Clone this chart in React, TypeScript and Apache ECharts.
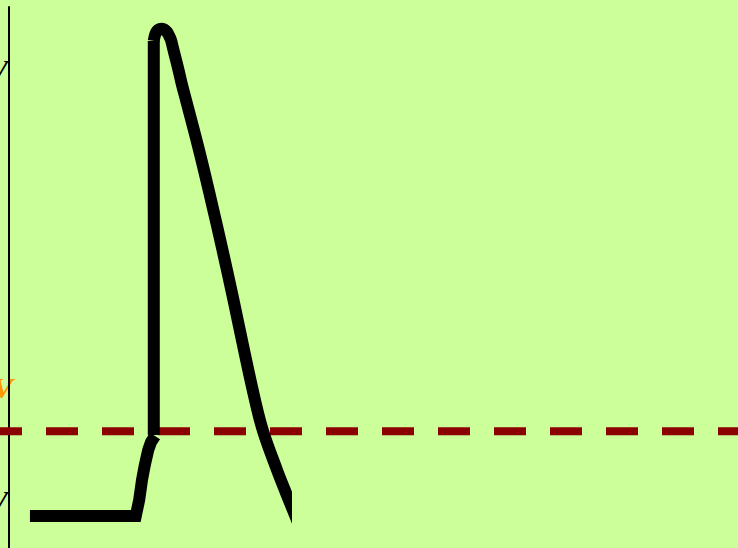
import React, { useEffect, useRef } from "react";
import * as echarts from "echarts";

// Membrane potential trace (time in ms, potential in mV)
const depolTime = [0.37, 2.24, 2.3, 2.35, 2.4, 2.46, 2.51, 2.58];
const depolMv = [-70, -70, -67.17, -63.63, -60.98, -58.33, -56.92, -55.85];

const upstrokeTime = [2.558, 2.558];
const upstrokeMv = [-55.68, 14.0];

const spikeTime = [
  2.558, 2.58, 2.615, 2.659, 2.703, 2.747, 2.792, 2.827, 2.862, 2.906, 2.951,
  2.995, 3.057, 3.127, 3.357, 3.569, 3.772, 3.966, 4.152, 4.346, 4.488, 4.735,
  4.894, 5.088, 5.23,
];
const spikeMv = [
  14.0, 15.05, 15.76, 16.08, 16.14, 16.0, 15.58, 14.96, 14.16, 12.4, 10.63,
  8.86, 6.21, 3.56, -5.29, -14.13, -22.97, -31.81, -40.65, -49.49, -54.97,
  -61.87, -65.93, -70.71, -74.24,
];

const thresholdMv = -55;
const axisMinMv = -75.66;
const axisMaxMv = 20;
const timeMaxMs = 4.894;
const levelLabels = ["+40 mV", "−55 mV", "−70 mV"];

const zip = (a: number[], b: number[]) => a.map((v, i) => [v, b[i]]);

export default function App() {
  const ref = useRef<HTMLDivElement>(null);
  useEffect(() => {
    if (!ref.current) return;
    const chart = echarts.init(ref.current, null, { renderer: "svg" });
    const black = {
      color: "#000000",
      width: 12,
      cap: "butt" as const,
    };
    chart.setOption({
      animation: false,
      backgroundColor: "#ccff99",
      grid: [
        { left: 9, top: 7, width: 277, bottom: 0 },
        { left: 0, top: 7, right: 0, bottom: 0 },
      ],
      xAxis: [
        { type: "value", gridIndex: 0, min: 0, max: timeMaxMs, show: false },
        { type: "value", gridIndex: 1, min: 0, max: 1, show: false },
      ],
      yAxis: [
        {
          type: "value",
          gridIndex: 0,
          min: axisMinMv,
          max: axisMaxMv,
          axisLine: { show: true, lineStyle: { color: "#000", width: 2 } },
          axisTick: { show: false },
          axisLabel: { show: false },
          splitLine: { show: false },
        },
        {
          type: "value",
          gridIndex: 1,
          min: axisMinMv,
          max: axisMaxMv,
          show: false,
        },
      ],
      series: [
        {
          type: "line",
          xAxisIndex: 1,
          yAxisIndex: 1,
          z: 1,
          showSymbol: false,
          silent: true,
          data: [
            [0, thresholdMv],
            [1, thresholdMv],
          ],
          lineStyle: {
            color: "#8b0000",
            width: 8,
            type: [32, 24],
            dashOffset: 10.3,
            cap: "butt",
          },
        },
        {
          type: "line",
          z: 3,
          showSymbol: false,
          clip: true,
          data: zip(depolTime, depolMv),
          lineStyle: { ...black, join: "miter" },
        },
        {
          type: "line",
          z: 3,
          showSymbol: false,
          clip: true,
          data: zip(upstrokeTime, upstrokeMv),
          lineStyle: { ...black },
        },
        {
          type: "line",
          z: 3,
          showSymbol: false,
          clip: true,
          smooth: 0.4,
          data: zip(spikeTime, spikeMv),
          lineStyle: { ...black, join: "round" },
        },
      ],
      graphic: [
        {
          type: "text",
          x: 8,
          y: 55,
          style: {
            text: levelLabels[0],
            fill: "#000",
            font: 'italic bold 28px "Liberation Serif"',
            align: "right",
            verticalAlign: "top",
          },
        },
        {
          type: "text",
          x: 13,
          y: 372,
          style: {
            text: levelLabels[1],
            fill: "#ff9900",
            font: 'italic bold 30px "Liberation Serif"',
            align: "right",
            verticalAlign: "top",
          },
        },
        {
          type: "text",
          x: 8,
          y: 486,
          style: {
            text: levelLabels[2],
            fill: "#000",
            font: 'italic bold 28px "Liberation Serif"',
            align: "right",
            verticalAlign: "top",
          },
        },
      ],
    });
    return () => chart.dispose();
  }, []);
  return (
    <div
      ref={ref}
      style={{ position: "fixed", left: 0, top: 0, width: 738, height: 548 }}
    />
  );
}
